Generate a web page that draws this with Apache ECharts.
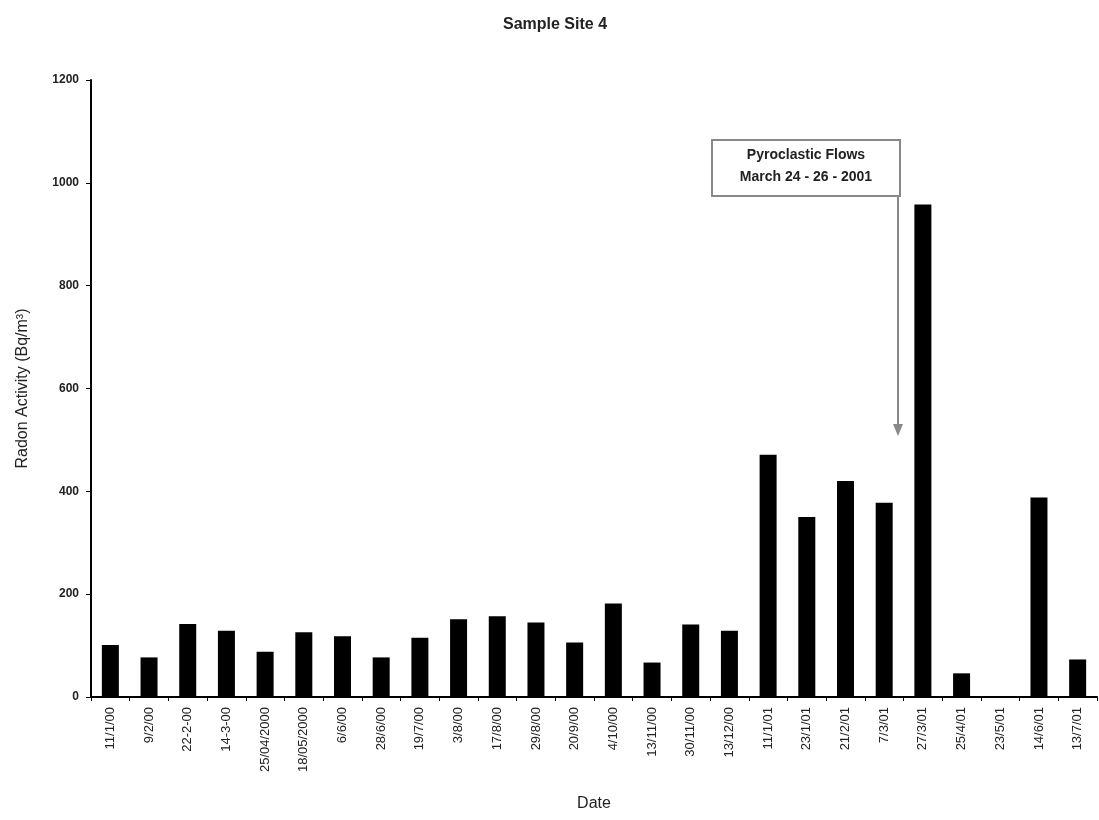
<!DOCTYPE html>
<html>
<head>
<meta charset="utf-8">
<script src="https://cdn.jsdelivr.net/npm/echarts@6/dist/echarts.min.js"></script>
<style>html,body{margin:0;padding:0;background:#fff;}#c{width:1099px;height:820px;}</style>
</head>
<body>
<div id="c"></div>
<script>
const categories = ["11/1/00","9/2/00","22-2-00","14-3-00","25/04/2000","18/05/2000","6/6/00","28/6/00","19/7/00","3/8/00","17/8/00","29/8/00","20/9/00","4/10/00","13/11/00","30/11/00","13/12/00","11/1/01","23/1/01","21/2/01","7/3/01","27/3/01","25/4/01","23/5/01","14/6/01","13/7/01"];
const radonValues = [101,77,142,129,88,126,118,77,115,151,157,145,106,182,67,141,129,471,350,420,378,958,46,0,388,73];
const yTicks = [0,200,400,600,800,1000,1200];
const titleText = "Sample Site 4";
const yAxisName = "Radon Activity (Bq/m³)";
const xAxisName = "Date";
const annotationLines = ["Pyroclastic Flows","March 24 - 26 - 2001"];

const FONT = "'Liberation Sans',Arial,sans-serif";
const chart = echarts.init(document.getElementById('c'), null, {renderer:'canvas'});
chart.setOption({
  animation:false,
  backgroundColor:'#fff',
  title:{text:titleText,left:550,top:12,textAlign:'center',
    textStyle:{fontFamily:FONT,fontSize:16,fontWeight:'bold',color:'#222'}},
  grid:{left:91,right:2,top:80,bottom:123,containLabel:false},
  xAxis:{type:'category',data:categories,boundaryGap:true,
    name:xAxisName,nameLocation:'middle',nameGap:99,
    nameTextStyle:{fontFamily:FONT,fontSize:16,color:'#222'},
    axisLine:{lineStyle:{color:'#000',width:2}},
    axisTick:{show:true,alignWithLabel:false,length:4,lineStyle:{color:'#000',width:1}},
    axisLabel:{rotate:90,interval:0,margin:10,fontFamily:FONT,fontSize:13,color:'#222'}},
  yAxis:{type:'value',min:0,max:1200,interval:200,
    name:yAxisName,nameLocation:'middle',nameGap:60,nameRotate:90,
    nameTextStyle:{fontFamily:FONT,fontSize:16,color:'#222'},
    axisLine:{show:true,lineStyle:{color:'#000',width:2}},
    axisTick:{show:true,length:5,lineStyle:{color:'#000'}},
    splitLine:{show:false},
    axisLabel:{margin:12,fontFamily:FONT,fontSize:12,fontWeight:'bold',color:'#222',
      formatter:function(v){return yTicks.indexOf(v)>=0?String(v):'';}}},
  series:[{type:'bar',data:radonValues,barWidth:17,
    itemStyle:{color:'#000'}}],
  graphic:[
    {type:'rect',shape:{x:712,y:140,width:188,height:56},
      style:{fill:'#fff',stroke:'#888',lineWidth:2}},
    {type:'text',style:{x:806,y:155,text:annotationLines[0],align:'center',verticalAlign:'middle',
      font:"bold 14px "+FONT,fill:'#222'}},
    {type:'text',style:{x:806,y:177,text:annotationLines[1],align:'center',verticalAlign:'middle',
      font:"bold 14px "+FONT,fill:'#222'}},
    {type:'line',shape:{x1:898,y1:196,x2:898,y2:428},style:{stroke:'#888',lineWidth:2}},
    {type:'polygon',shape:{points:[[893,424],[903,424],[898,436]]},style:{fill:'#888'}}
  ]
});
</script>
</body>
</html>
